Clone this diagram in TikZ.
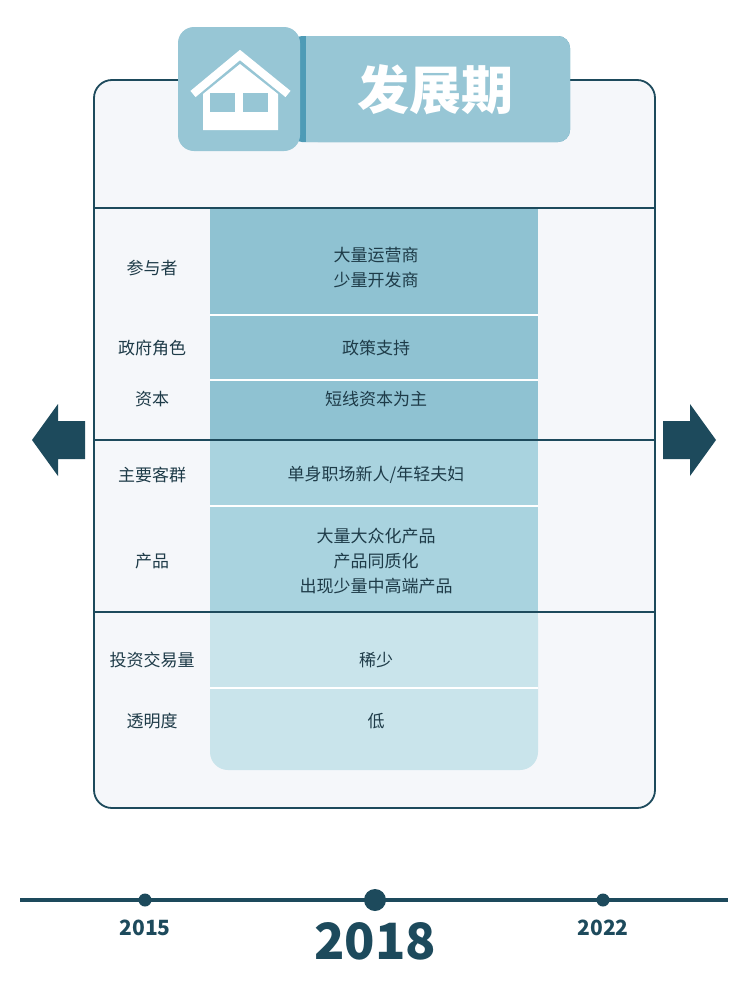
\documentclass[tikz,border=0pt]{standalone}
\usepackage{fontspec}
\setmainfont{Noto Sans CJK SC}
\definecolor{dk}{HTML}{1D4A5C}
\definecolor{bgc}{HTML}{F5F7FA}
\definecolor{c1}{HTML}{8FC2D2}
\definecolor{c2}{HTML}{A9D3DF}
\definecolor{c3}{HTML}{C9E4EB}
\definecolor{tab}{HTML}{97C6D5}
\definecolor{tabd}{HTML}{4E9BB6}
\definecolor{txt}{HTML}{1E3B48}
\tikzset{lab/.style={font=\fontsize{17}{25}\selectfont,text=txt,align=center},
 yr/.style={font=\bfseries\fontsize{21}{24}\selectfont,text=dk}}
\begin{document}
\begin{tikzpicture}[x=1pt,y=-1pt]
\useasboundingbox (0,0) rectangle (744,988);
\fill[white] (0,0) rectangle (744,988);
% card
\draw[dk,line width=1.8pt,fill=bgc,rounded corners=18] (94,80) rectangle (655,808);
% column
\fill[c3,rounded corners=18] (210,600) rectangle (538,770);
\fill[c1] (210,208) rectangle (538,440);
\fill[c2] (210,440) rectangle (538,612);
\fill[c3] (210,612) rectangle (538,700);
\foreach \y in {315,380,506,688} \draw[white,line width=1.2pt] (210,\y)--(538,\y);
\foreach \y in {208,440,612} \draw[dk,line width=1.8pt] (94,\y)--(655,\y);
% header
\fill[tabd,rounded corners=12] (290,36) rectangle (570,142);
\fill[tab,rounded corners=12] (306,36) rectangle (570,142);
\fill[tab] (306,36) rectangle (330,142);
\fill[tab,rounded corners=16] (178,27) rectangle (300,151);
\node[font=\bfseries\fontsize{52}{56}\selectfont,text=white] (title) at (435,90) {发展期};
% house
\draw[white,line width=8pt,line join=miter] (193,94)--(240,55)--(288,94);
\fill[white] (203,94)--(240,64)--(278,94)--(278,130)--(203,130)--cycle;
\fill[tab] (210,93) rectangle (235,112);
\fill[tab] (243,93) rectangle (268,112);
% labels
\node[lab] (l1) at (152,268) {参与者};
\node[lab] (l2) at (152,348) {政府角色};
\node[lab] (l3) at (152,399) {资本};
\node[lab] (l4) at (152,475) {主要客群};
\node[lab] (l5) at (152,561) {产品};
\node[lab] (l6) at (152,660) {投资交易量};
\node[lab] (l7) at (152,721) {透明度};
\node[lab] (v1) at (376,268) {大量运营商\\少量开发商};
\node[lab] (v2) at (376,348) {政策支持};
\node[lab] (v3) at (376,399) {短线资本为主};
\node[lab] (v4) at (376,475) {单身职场新人/年轻夫妇};
\node[lab] (v5) at (376,561) {大量大众化产品\\产品同质化\\出现少量中高端产品};
\node[lab] (v6) at (376,660) {稀少};
\node[lab] (v7) at (376,721) {低};
% arrows
\fill[dk] (85,421)--(58,421)--(58,404)--(32,440)--(58,476)--(58,459)--(85,459)--cycle;
\fill[dk] (663,421)--(690,421)--(690,404)--(716,440)--(690,476)--(690,459)--(663,459)--cycle;
% timeline
\coordinate (ta) at (20,900); \coordinate (tb) at (728,900);
\draw[dk,line width=3.5pt] (ta)--(tb);
\fill[dk] (145,900) circle (6.5);
\fill[dk] (375,900) circle (11);
\fill[dk] (603,900) circle (6.5);
\node[yr] (y1) at (145,928) {2015};
\node[yr,font=\bfseries\fontsize{50}{54}\selectfont] (y2) at (375,941) {2018};
\node[yr] (y3) at (603,928) {2022};
\end{tikzpicture}
\end{document}
